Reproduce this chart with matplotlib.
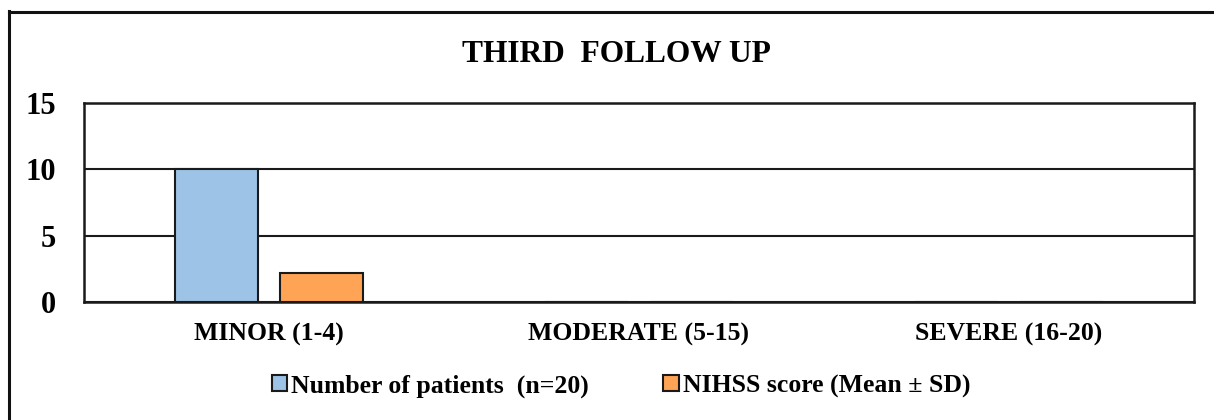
import matplotlib
matplotlib.use("Agg")
import matplotlib.pyplot as plt
import numpy as np
from matplotlib.lines import Line2D

categories = ["MINOR (1-4)", "MODERATE (5-15)", "SEVERE (16-20)"]
patients = [10, 0, 0]
nihss = [2.15, 0, 0]
series_names = ["Number of patients  (n=20)", "NIHSS score (Mean \u00b1 SD)"]
yticks = [0, 5, 10, 15]

plt.rcParams['font.family'] = ['Liberation Serif', 'DejaVu Serif']
plt.rcParams['font.weight'] = 'bold'

W, H = 1214, 420
fig = plt.figure(figsize=(W/100, H/100), dpi=100)
ax = fig.add_axes([84/W, 1-302/H, (1194-84)/W, (302-103)/H])

x = np.arange(len(categories))
bw = 0.224
off = 0.142
ax.bar(x - off, patients, bw, color='#9DC3E6', edgecolor='#1a1a1a', linewidth=1.5, label=series_names[0], zorder=3)
ax.bar(x + off, nihss, bw, color='#FFA455', edgecolor='#1a1a1a', linewidth=1.5, label=series_names[1], zorder=3)

ax.set_xlim(-0.5, 2.5)
ax.set_ylim(0, 15)
ax.set_yticks(yticks)
ax.set_yticklabels([str(t) for t in yticks], fontsize=22, fontweight='bold')
ax.set_xticks(x)
ax.set_xticklabels(categories, fontsize=18.5, fontweight='bold')
ax.tick_params(axis='both', length=0)
ax.tick_params(axis='y', pad=20)
ax.tick_params(axis='x', pad=15)
ax.yaxis.grid(True, color='#1a1a1a', linewidth=1.5, zorder=0)
for s in ax.spines.values():
    s.set_color('#1a1a1a')
    s.set_linewidth(1.8)

fig.text(616/W, 1-54/H, "THIRD  FOLLOW UP", ha='center', va='center', fontsize=22.7, fontweight='bold')

leg = fig.legend(loc='center', bbox_to_anchor=(621/W, 1-386/H), ncol=2, frameon=False,
                 handlelength=0.6, handleheight=0.6, handletextpad=0.15,
                 columnspacing=2.9, prop={'weight': 'bold', 'size': 18.5})

fig.add_artist(Line2D([8.5/W, 8.5/W], [0, 1-11/H], transform=fig.transFigure, color='#111111', linewidth=2.2))
fig.add_artist(Line2D([8.5/W, 1], [1-11.5/H, 1-11.5/H], transform=fig.transFigure, color='#111111', linewidth=2.2))

fig.savefig("out.png", dpi=100)
